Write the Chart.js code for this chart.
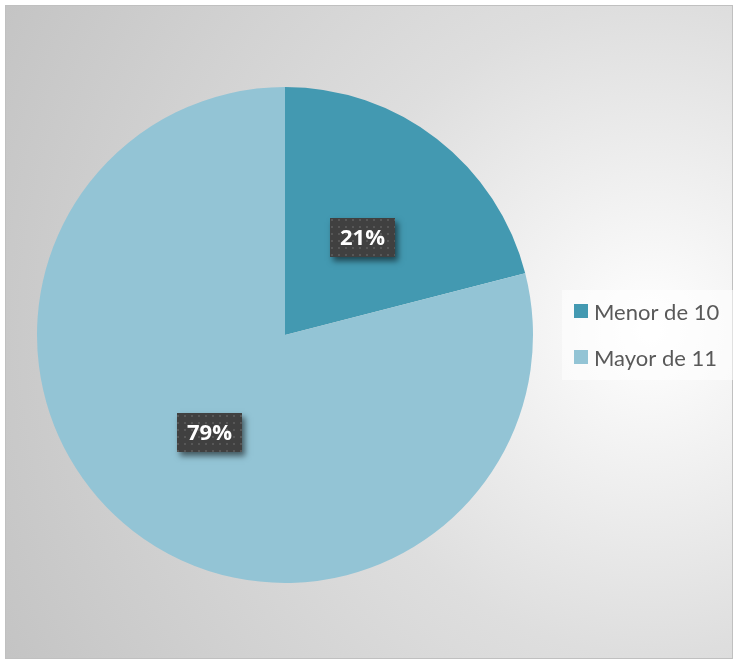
<!DOCTYPE html>
<html>
<head>
<meta charset="utf-8">
<script src="https://cdn.jsdelivr.net/npm/chart.js@4/dist/chart.umd.min.js"></script>
<style>
  html, body { margin: 0; padding: 0; background: #ffffff; }
  #wrap { width: 734px; height: 661px; position: relative; }
</style>
</head>
<body>
<div id="wrap"><canvas id="c" width="734" height="661"></canvas></div>
<script>
// Categories and shares (percent)
const categories = ['Menor de 10', 'Mayor de 11'];
const shares = [21, 79];
const sliceColors = ['#4399b1', '#93c4d5'];

// Dotted fill used behind the value labels
function dotPattern(ctx) {
  const p = document.createElement('canvas');
  p.width = 7; p.height = 7;
  const g = p.getContext('2d');
  g.fillStyle = '#404040';
  g.fillRect(0, 0, 7, 7);
  g.fillStyle = '#575757';
  g.fillRect(2, 2, 2, 2);
  return ctx.createPattern(p, 'repeat');
}

// Gray panel with soft radial light behind the legend
const panelBackground = {
  id: 'panelBackground',
  beforeDraw(chart) {
    const ctx = chart.ctx;
    ctx.save();
    ctx.fillStyle = '#ffffff';
    ctx.fillRect(0, 0, chart.width, chart.height);
    const x0 = 5, y0 = 5, x1 = 733, y1 = 659;
    const grad = ctx.createRadialGradient(650, 330, 0, 650, 330, 720);
    grad.addColorStop(0, '#ffffff');
    grad.addColorStop(0.12, '#f6f6f6');
    grad.addColorStop(0.45, '#dedede');
    grad.addColorStop(1, '#c4c4c4');
    ctx.fillStyle = grad;
    ctx.fillRect(x0, y0, x1 - x0, y1 - y0);
    ctx.strokeStyle = '#c0c0c0';
    ctx.lineWidth = 1;
    ctx.strokeRect(x0 + 0.5, y0 + 0.5, x1 - x0 - 1, y1 - y0 - 1);
    ctx.restore();
  }
};

// Percentage labels in dark boxes at the middle of each slice
const sliceLabels = {
  id: 'sliceLabels',
  afterDatasetsDraw(chart) {
    const ctx = chart.ctx;
    const meta = chart.getDatasetMeta(0);
    const pattern = dotPattern(ctx);
    ctx.save();
    ctx.font = 'bold 22px "Open Sans", sans-serif';
    ctx.textAlign = 'center';
    ctx.textBaseline = 'middle';
    meta.data.forEach((arc, i) => {
      const pos = arc.getCenterPoint();
      const text = shares[i] + '%';
      const w = 65, h = 39;
      const bx = Math.round(pos.x - w / 2 + 1), by = Math.round(pos.y - h / 2);
      ctx.save();
      ctx.shadowColor = 'rgba(0,0,0,0.55)';
      ctx.shadowBlur = 6;
      ctx.shadowOffsetX = 3;
      ctx.shadowOffsetY = 4;
      ctx.fillStyle = '#404040';
      ctx.fillRect(bx, by, w, h);
      ctx.restore();
      ctx.fillStyle = pattern;
      ctx.fillRect(bx, by, w, h);
      ctx.fillStyle = '#ffffff';
      ctx.fillText(text, bx + w / 2, by + h / 2 + 1);
    });
    ctx.restore();
  }
};

// Legend on the right, built from the category list and slice colors
const sideLegend = {
  id: 'sideLegend',
  afterDraw(chart) {
    const ctx = chart.ctx;
    const ds = chart.data.datasets[0];
    ctx.save();
    ctx.fillStyle = 'rgba(255,255,255,0.5)';
    ctx.fillRect(562, 290, 171, 90);
    ctx.font = '22px Lato, "Open Sans", sans-serif';
    ctx.textBaseline = 'alphabetic';
    ctx.textAlign = 'left';
    chart.data.labels.forEach((label, i) => {
      const y = 304 + i * 46;
      ctx.fillStyle = ds.backgroundColor[i];
      ctx.fillRect(574, y, 14, 14);
      ctx.fillStyle = '#595959';
      ctx.fillText(label, 594, y + 16);
    });
    ctx.restore();
  }
};

new Chart(document.getElementById('c'), {
  type: 'pie',
  data: {
    labels: categories,
    datasets: [{
      data: shares,
      backgroundColor: sliceColors,
      borderWidth: 0
    }]
  },
  options: {
    responsive: false,
    animation: false,
    layout: { padding: { left: 37, right: 201, top: 87, bottom: 78 } },
    plugins: {
      legend: { display: false },
      tooltip: { enabled: false }
    }
  },
  plugins: [panelBackground, sliceLabels, sideLegend]
});
</script>
</body>
</html>
